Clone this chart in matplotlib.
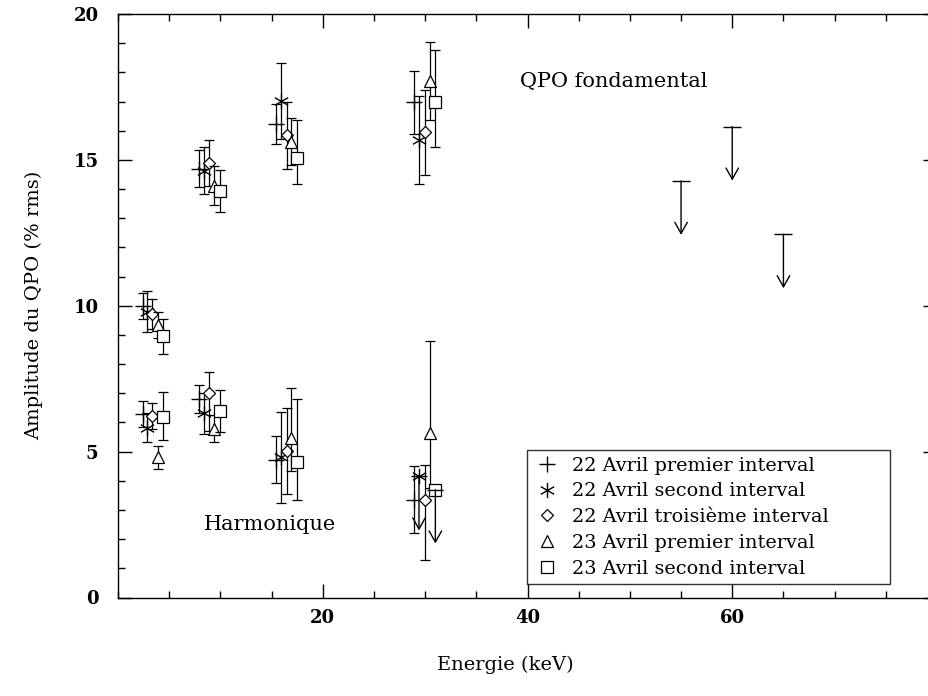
import numpy as np
import matplotlib.pyplot as plt
from matplotlib.path import Path
from matplotlib.lines import Line2D
from matplotlib.ticker import MultipleLocator

plt.rcParams['font.family'] = ['DejaVu Serif']

# energies (keV) of each series, one per band
e_plus = [2.4, 7.9, 15.4, 28.9]
e_star = [2.8, 8.4, 15.9, 29.4]
e_diam = [3.3, 8.9, 16.5, 30.0]
e_tri = [3.9, 9.4, 16.9, 30.5]
e_sq = [4.4, 10.0, 17.45, 31.0]

# QPO fondamental
f_plus = [10.0, 14.7, 16.23, 16.97]
f_plus_err = [0.45, 0.63, 0.67, 1.08]
f_star = [9.79, 14.63, 17.03, 15.68]
f_star_err = [0.7, 0.8, 1.3, 1.5]
f_diam = [9.72, 14.89, 15.85, 15.94]
f_diam_err = [0.5, 0.8, 1.15, 1.45]
f_tri = [9.33, 14.11, 15.62, 17.7]
f_tri_err = [0.45, 0.67, 0.8, 1.35]
f_sq = [8.96, 13.94, 15.05, 17.0]
f_sq_lo = [0.6, 0.73, 0.88, 1.55]
f_sq_hi = [0.6, 0.73, 1.3, 1.75]

# fondamental upper limits at high energy
ul_e = [55, 60, 65]
ul_val = [14.28, 16.14, 12.45]

# Harmonique
h_plus = [6.3, 6.8, 4.73, 3.35]
h_plus_err = [0.45, 0.47, 0.82, 1.15]
h_star = [5.82, 6.31, 4.8, 4.15]
h_star_err = [0.5, 0.7, 1.55, 0.0]
h_star_ul = [False, False, False, True]
h_diam = [6.22, 7.02, 5.02, 3.35]
h_diam_lo = [0.45, 1.3, 1.47, 2.07]
h_diam_hi = [0.45, 0.7, 1.47, 1.18]
h_tri = [4.8, 5.79, 5.45, 5.65]
h_tri_lo = [0.4, 0.45, 1.12, 1.9]
h_tri_hi = [0.4, 0.45, 1.74, 3.13]
h_sq = [6.19, 6.39, 4.65, 3.7]
h_sq_lo = [0.8, 0.72, 1.3, 0.0]
h_sq_hi = [0.85, 0.72, 2.15, 0.0]
h_sq_ul = [False, False, False, True]

labels = ['22 Avril premier interval', '22 Avril second interval',
          '22 Avril troisième interval', '23 Avril premier interval',
          '23 Avril second interval']

ul_len = 1.85

star = Path([(0, -1), (0, 1), (-0.87, -0.5), (0.87, 0.5), (-0.87, 0.5), (0.87, -0.5)],
            [Path.MOVETO, Path.LINETO] * 3)

styles = [dict(marker='+', ms=11, mew=1.0),
          dict(marker=star, ms=11, mew=1.0),
          dict(marker='D', ms=6.5, mew=0.9),
          dict(marker='^', ms=9, mew=0.9),
          dict(marker='s', ms=8.5, mew=0.9)]

fig = plt.figure(figsize=(9.29, 6.96), dpi=100)
ax = fig.add_axes([118 / 929, 98.5 / 696, 819 / 929, 583.5 / 696])


def upper_limit(x, y, cap=12):
    ax.annotate('', xy=(x, y - ul_len), xytext=(x, y),
                arrowprops=dict(arrowstyle='->,head_length=0.8,head_width=0.45',
                                lw=1.0, color='black', shrinkA=0, shrinkB=0))
    ax.plot([x], [y], marker='_', ms=cap, mew=1.0, color='black')


def series(e, y, lo, hi, st, ul=None):
    e = np.array(e)
    y = np.array(y)
    lo = np.array(lo)
    hi = np.array(hi)
    ok = np.ones(len(e), bool) if ul is None else ~np.array(ul)
    ax.errorbar(e[ok], y[ok], yerr=[lo[ok], hi[ok]], fmt='none', ecolor='black',
                elinewidth=0.9, capsize=3.5, capthick=0.9)
    ax.plot(e, y, ls='none', color='black', mfc='white', **st)
    if ul is not None:
        for xi, yi in zip(e[~ok], y[~ok]):
            upper_limit(xi, yi)


series(e_plus, f_plus, f_plus_err, f_plus_err, styles[0])
series(e_star, f_star, f_star_err, f_star_err, styles[1])
series(e_diam, f_diam, f_diam_err, f_diam_err, styles[2])
series(e_tri, f_tri, f_tri_err, f_tri_err, styles[3])
series(e_sq, f_sq, f_sq_lo, f_sq_hi, styles[4])

series(e_plus, h_plus, h_plus_err, h_plus_err, styles[0])
series(e_star, h_star, h_star_err, h_star_err, styles[1], h_star_ul)
series(e_diam, h_diam, h_diam_lo, h_diam_hi, styles[2])
series(e_tri, h_tri, h_tri_lo, h_tri_hi, styles[3])
series(e_sq, h_sq, h_sq_lo, h_sq_hi, styles[4], h_sq_ul)

for xi, yi in zip(ul_e, ul_val):
    upper_limit(xi, yi, cap=13)

ax.set_xlim(0, 80)
ax.set_ylim(0, 20)
ax.xaxis.set_minor_locator(MultipleLocator(5))
ax.yaxis.set_major_locator(MultipleLocator(5))
ax.yaxis.set_minor_locator(MultipleLocator(1))
ax.set_xticks([20, 40, 60])
ax.tick_params(which='both', direction='in', top=True, right=True, width=1.0)
ax.tick_params(which='major', length=10, labelsize=13)
ax.tick_params(which='minor', length=5)
ax.tick_params(axis='y', pad=14)
ax.tick_params(axis='x', pad=8)
for t in ax.get_xticklabels() + ax.get_yticklabels():
    t.set_fontweight('bold')
for s in ax.spines.values():
    s.set_linewidth(1.0)

ax.set_xlabel('Energie (keV)', fontsize=14)
ax.xaxis.set_label_coords(0.4725, -0.1)
ax.set_ylabel('Amplitude du QPO (% rms)', fontsize=14, labelpad=22)

ax.text(39.3, 17.7, 'QPO fondamental', fontsize=15, va='center')
ax.text(8.4, 2.5, 'Harmonique', fontsize=15, va='center')

handles = [Line2D([], [], ls='none', color='black', mfc='white', **st) for st in styles]
leg = ax.legend(handles, labels, loc='upper left', bbox_to_anchor=(0.4994, 0.0334, 0.4432, 0.2194),
                mode='expand', borderaxespad=0, fontsize=13.9, frameon=True, fancybox=False,
                handlelength=1.4, handletextpad=0.6, borderpad=0.35, labelspacing=0.4)
leg.get_frame().set_edgecolor('black')
leg.get_frame().set_linewidth(1.0)

fig.savefig('out.png', dpi=100)
